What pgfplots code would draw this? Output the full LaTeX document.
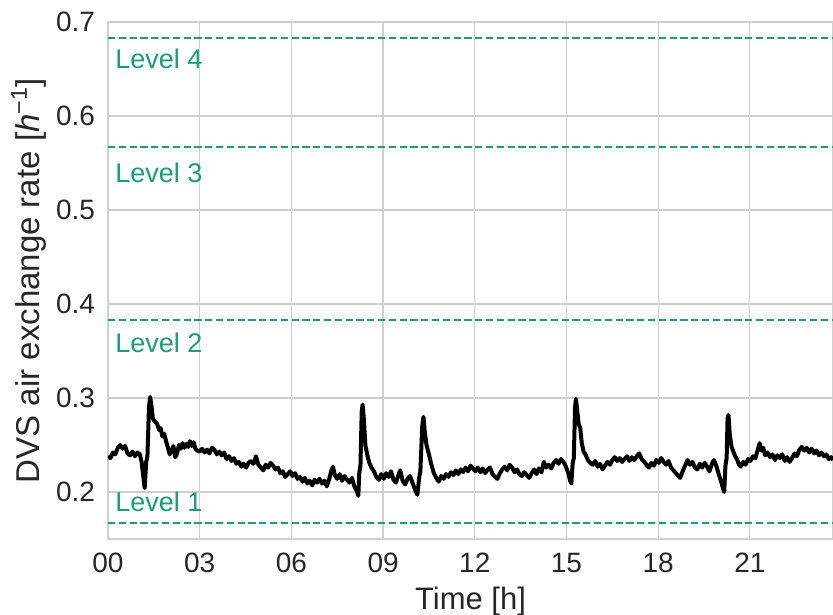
\documentclass[border=0pt]{standalone}
\usepackage{pgfplots}
\pgfplotsset{compat=1.18}
\usepackage{fontspec}
\setmainfont{Liberation Sans}
\definecolor{lvl}{HTML}{1B9E77}
\definecolor{gridc}{HTML}{D0D0D0}
\pgfplotstableread{
h v
0.00 0.238
0.08 0.236
0.16 0.242
0.24 0.240
0.32 0.247
0.40 0.250
0.48 0.246
0.56 0.249
0.64 0.241
0.72 0.239
0.80 0.243
0.88 0.238
0.96 0.242
1.04 0.240
1.10 0.232
1.16 0.215
1.20 0.204
1.25 0.232
1.29 0.238
1.34 0.290
1.38 0.301
1.42 0.292
1.47 0.278
1.53 0.275
1.60 0.273
1.67 0.266
1.72 0.268
1.78 0.259
1.84 0.262
1.90 0.254
1.96 0.247
2.02 0.240
2.08 0.244
2.14 0.249
2.20 0.237
2.26 0.241
2.32 0.250
2.38 0.246
2.44 0.252
2.50 0.247
2.56 0.251
2.62 0.248
2.68 0.254
2.74 0.249
2.80 0.253
2.86 0.246
2.92 0.244
3.00 0.243
3.08 0.246
3.16 0.242
3.24 0.245
3.32 0.241
3.40 0.247
3.48 0.245
3.56 0.240
3.64 0.243
3.72 0.239
3.80 0.242
3.88 0.235
3.96 0.238
4.04 0.233
4.12 0.236
4.20 0.230
4.28 0.232
4.36 0.227
4.44 0.230
4.52 0.226
4.60 0.231
4.68 0.233
4.76 0.230
4.84 0.238
4.92 0.229
5.00 0.226
5.08 0.223
5.16 0.229
5.24 0.226
5.32 0.231
5.40 0.228
5.48 0.224
5.56 0.226
5.64 0.220
5.72 0.222
5.80 0.216
5.88 0.219
5.96 0.222
6.04 0.217
6.12 0.220
6.20 0.214
6.28 0.216
6.36 0.211
6.44 0.215
6.52 0.209
6.60 0.212
6.68 0.207
6.76 0.213
6.84 0.210
6.92 0.214
7.00 0.209
7.08 0.212
7.16 0.206
7.24 0.214
7.30 0.222
7.36 0.227
7.42 0.218
7.50 0.214
7.58 0.219
7.66 0.212
7.74 0.217
7.82 0.213
7.90 0.210
7.98 0.215
8.06 0.206
8.14 0.201
8.19 0.196
8.22 0.220
8.26 0.228
8.30 0.285
8.33 0.293
8.37 0.278
8.42 0.250
8.48 0.240
8.55 0.231
8.62 0.226
8.70 0.222
8.78 0.216
8.86 0.213
8.94 0.219
9.02 0.214
9.10 0.220
9.18 0.216
9.26 0.222
9.34 0.213
9.42 0.210
9.50 0.218
9.56 0.223
9.64 0.212
9.72 0.208
9.80 0.214
9.88 0.217
9.96 0.210
10.04 0.203
10.12 0.197
10.18 0.215
10.22 0.222
10.28 0.270
10.32 0.280
10.36 0.265
10.42 0.250
10.50 0.240
10.58 0.229
10.66 0.220
10.74 0.215
10.82 0.211
10.90 0.217
10.98 0.214
11.06 0.219
11.14 0.216
11.22 0.221
11.30 0.218
11.38 0.223
11.46 0.219
11.54 0.224
11.62 0.221
11.70 0.226
11.78 0.222
11.86 0.228
11.94 0.225
12.02 0.222
12.10 0.226
12.18 0.221
12.26 0.225
12.34 0.220
12.42 0.224
12.50 0.226
12.58 0.219
12.66 0.216
12.74 0.214
12.82 0.220
12.90 0.224
12.98 0.227
13.06 0.223
13.14 0.229
13.22 0.226
13.30 0.221
13.38 0.224
13.46 0.219
13.54 0.217
13.62 0.221
13.70 0.218
13.78 0.215
13.86 0.220
13.94 0.224
14.02 0.219
14.10 0.225
14.18 0.221
14.26 0.232
14.34 0.226
14.42 0.229
14.50 0.225
14.58 0.231
14.66 0.234
14.74 0.230
14.82 0.235
14.90 0.232
14.98 0.227
15.06 0.220
15.12 0.212
15.16 0.209
15.20 0.230
15.24 0.236
15.28 0.290
15.31 0.299
15.35 0.287
15.40 0.272
15.45 0.268
15.50 0.252
15.56 0.243
15.62 0.240
15.70 0.234
15.78 0.231
15.86 0.229
15.94 0.233
16.02 0.227
16.10 0.230
16.18 0.224
16.26 0.228
16.34 0.232
16.42 0.229
16.50 0.234
16.58 0.237
16.66 0.233
16.74 0.236
16.82 0.232
16.90 0.235
16.98 0.238
17.06 0.233
17.14 0.237
17.22 0.234
17.30 0.238
17.38 0.241
17.46 0.235
17.54 0.232
17.62 0.229
17.70 0.226
17.78 0.231
17.86 0.228
17.94 0.234
18.02 0.231
18.10 0.236
18.18 0.232
18.26 0.229
18.34 0.233
18.42 0.226
18.50 0.223
18.58 0.220
18.66 0.217
18.72 0.215
18.80 0.222
18.88 0.228
18.96 0.234
19.04 0.229
19.12 0.232
19.20 0.226
19.28 0.224
19.36 0.230
19.44 0.226
19.52 0.231
19.60 0.227
19.68 0.222
19.76 0.230
19.82 0.234
19.90 0.228
19.98 0.219
20.06 0.211
20.12 0.204
20.16 0.200
20.20 0.228
20.24 0.236
20.27 0.278
20.30 0.282
20.34 0.262
20.40 0.248
20.46 0.243
20.52 0.238
20.58 0.235
20.64 0.229
20.70 0.227
20.78 0.232
20.86 0.229
20.94 0.235
21.02 0.233
21.10 0.238
21.18 0.236
21.26 0.245
21.32 0.252
21.38 0.244
21.44 0.247
21.50 0.239
21.58 0.242
21.66 0.237
21.74 0.240
21.82 0.234
21.90 0.239
21.98 0.236
22.06 0.240
22.14 0.233
22.22 0.237
22.30 0.232
22.38 0.236
22.46 0.241
22.54 0.238
22.62 0.245
22.70 0.248
22.78 0.244
22.86 0.247
22.94 0.242
23.02 0.246
23.10 0.241
23.18 0.244
23.26 0.239
23.34 0.242
23.42 0.238
23.50 0.240
23.58 0.235
23.66 0.237
23.72 0.234
}\series
\begin{document}
\begin{tikzpicture}
\begin{axis}[
  name=ax,
  scale only axis,
  width=362.5pt, height=258.5pt,
  xmin=0, xmax=23.72, ymin=0.15, ymax=0.7,
  xtick={0,3,6,9,12,15,18,21},
  xticklabels={00,03,06,09,12,15,18,21},
  ytick={0.2,0.3,0.4,0.5,0.6,0.7},
  yticklabel style={/pgf/number format/fixed,/pgf/number format/precision=1,/pgf/number format/fixed zerofill},
  /pgf/number format/assume math mode=true,
  tick label style={font=\fontsize{14}{16}\selectfont, text=black!85},
  major tick length=0pt,
  xticklabel style={yshift=-3.5pt},
  yticklabel style={xshift=-3pt},
  grid=major,
  major grid style={gridc, line width=0.6pt},
  axis line style={gridc, line width=0.8pt},
  xlabel={Time [h]},
  ylabel={DVS air exchange rate [\textit{h}\textsuperscript{−1}]},
  xlabel style={font=\fontsize{15.5}{18}\selectfont, text=black!85, yshift=0pt},
  ylabel style={font=\fontsize{16.5}{19}\selectfont, text=black!85, yshift=-2pt},
  clip=true,
]
\addplot[lvl, line width=1.4pt, dash pattern=on 3.6pt off 1.8pt] coordinates {(0,0.683) (23.72,0.683)};
\addplot[lvl, line width=1.4pt, dash pattern=on 3.6pt off 1.8pt] coordinates {(0,0.567) (23.72,0.567)};
\addplot[lvl, line width=1.4pt, dash pattern=on 3.6pt off 1.8pt] coordinates {(0,0.383) (23.72,0.383)};
\addplot[lvl, line width=1.4pt, dash pattern=on 3.6pt off 1.8pt] coordinates {(0,0.167) (23.72,0.167)};
\addplot[black, line width=2pt, line join=round] table[x=h,y=v] {\series};
\node[anchor=west, inner sep=0pt, text=lvl, font=\fontsize{13.5}{16}\selectfont] at (axis cs:0.23,0.6606) {Level 4};
\node[anchor=west, inner sep=0pt, text=lvl, font=\fontsize{13.5}{16}\selectfont] at (axis cs:0.23,0.539) {Level 3};
\node[anchor=west, inner sep=0pt, text=lvl, font=\fontsize{13.5}{16}\selectfont] at (axis cs:0.23,0.3585) {Level 2};
\node[anchor=west, inner sep=0pt, text=lvl, font=\fontsize{13.5}{16}\selectfont] at (axis cs:0.23,0.190) {Level 1};
\end{axis}
\pgfresetboundingbox
\path (ax.south west) ++(-54pt,-38pt) coordinate (bl);
\path (ax.north east) ++(0pt,11pt) coordinate (tr);
\useasboundingbox (bl) rectangle (tr);
\end{tikzpicture}
\end{document}
